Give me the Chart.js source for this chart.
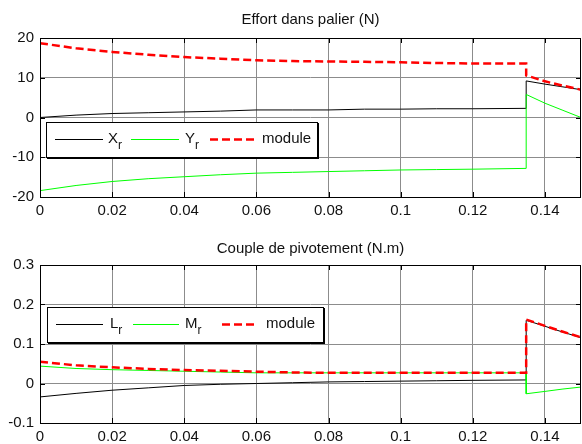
<!DOCTYPE html>
<html>
<head>
<meta charset="utf-8">
<script src="https://cdn.jsdelivr.net/npm/chart.js@4.4.0/dist/chart.umd.min.js"></script>
<style>
  body { margin: 0; background: #fff; }
  #wrap { position: relative; width: 582px; height: 444px; background: #fff; font-family: "Liberation Sans", Arial, sans-serif; color: #111; }
  canvas { position: absolute; left: 0; }
  .ttl { position: absolute; left: 40px; width: 541px; text-align: center; font-size: 15px; }
  .leg { position: absolute; border: 1.5px solid #000; box-sizing: border-box; background: #fff; box-shadow: 1px 1px 0 #000; }
  .leg svg { position: absolute; }
  .leg span { position: absolute; font-size: 15px; line-height: 16px; }
  .leg sub { font-size: 12px; vertical-align: -6px; }
</style>
</head>
<body>
<div id="wrap">
  <canvas id="c1" width="582" height="222" style="top:0"></canvas>
  <canvas id="c2" width="582" height="222" style="top:222px"></canvas>
  <div class="ttl" style="top:10px">Effort dans palier (N)</div>
  <div class="ttl" style="top:239px">Couple de pivotement (N.m)</div>

  <div class="leg" style="left:46px;top:122px;width:272px;height:36px">
    <svg style="left:8px;top:15px" width="48" height="4"><line x1="0" y1="1.5" x2="48" y2="1.5" stroke="#000" stroke-width="1"/></svg>
    <span style="left:61px;top:7px">X<sub>r</sub></span>
    <svg style="left:84px;top:15px" width="48" height="4"><line x1="0" y1="1.5" x2="48" y2="1.5" stroke="#00ff00" stroke-width="1"/></svg>
    <span style="left:138px;top:7px">Y<sub>r</sub></span>
    <svg style="left:163px;top:14px" width="46" height="5"><line x1="0" y1="2.5" x2="46" y2="2.5" stroke="#ff0000" stroke-width="2.5" stroke-dasharray="8,4"/></svg>
    <span style="left:215px;top:7px">module</span>
  </div>

  <div class="leg" style="left:47px;top:307px;width:277px;height:36px">
    <svg style="left:8px;top:15px" width="47" height="4"><line x1="0" y1="1.5" x2="47" y2="1.5" stroke="#000" stroke-width="1"/></svg>
    <span style="left:62px;top:7px">L<sub>r</sub></span>
    <svg style="left:85px;top:15px" width="46" height="4"><line x1="0" y1="1.5" x2="46" y2="1.5" stroke="#00ff00" stroke-width="1"/></svg>
    <span style="left:137px;top:7px">M<sub>r</sub></span>
    <svg style="left:174px;top:14px" width="36" height="5"><line x1="0" y1="2.5" x2="36" y2="2.5" stroke="#ff0000" stroke-width="2.5" stroke-dasharray="8,4"/></svg>
    <span style="left:218px;top:7px">module</span>
  </div>
</div>

<script>
// temps (s)
var t = [0, 0.01, 0.02, 0.03, 0.04, 0.05, 0.06, 0.07, 0.08, 0.09, 0.1, 0.11, 0.12, 0.1348, 0.1348, 0.14, 0.145, 0.15];

// effort dans palier (N)
var Xr = [0, 0.6, 1.0, 1.2, 1.4, 1.6, 1.9, 1.9, 1.9, 2.1, 2.1, 2.2, 2.2, 2.3, 9.2, 8.4, 7.7, 7.0];
var Yr = [-18.4, -17.1, -16.1, -15.4, -14.9, -14.4, -14.0, -13.8, -13.6, -13.4, -13.2, -13.1, -13.0, -12.8, 5.8, 3.6, 1.8, 0];
var modF = [18.7, 17.4, 16.5, 15.8, 15.2, 14.8, 14.4, 14.2, 14.1, 14.0, 13.9, 13.7, 13.6, 13.6, 10.6, 9.1, 8.0, 7.0];

// couple de pivotement (N.m)
var Lr = [-0.034, -0.025, -0.017, -0.011, -0.005, -0.002, 0, 0.002, 0.004, 0.005, 0.006, 0.007, 0.008, 0.009, 0.160, 0.145, 0.130, 0.116];
var Mr = [0.044, 0.038, 0.035, 0.033, 0.031, 0.029, 0.027, 0.027, 0.027, 0.027, 0.027, 0.027, 0.027, 0.027, -0.026, -0.020, -0.014, -0.009];
var modC = [0.055, 0.046, 0.041, 0.037, 0.034, 0.032, 0.030, 0.028, 0.027, 0.027, 0.027, 0.027, 0.027, 0.027, 0.162, 0.146, 0.131, 0.117];

var xTicks = [0, 0.02, 0.04, 0.06, 0.08, 0.1, 0.12, 0.14];
var yTicks1 = [-20, -10, 0, 10, 20];
var yTicks2 = [-0.1, 0, 0.1, 0.2, 0.3];

function pts(ys) {
  return ys.map(function(y, i) { return { x: t[i], y: y }; });
}

// cadre noir + petites graduations vers l'interieur (style matlab)
var boxPlugin = {
  id: 'box',
  afterDraw: function(chart) {
    var a = chart.chartArea, ctx = chart.ctx;
    ctx.save();
    ctx.strokeStyle = '#000';
    ctx.lineWidth = 1;
    ctx.beginPath();
    chart.scales.x.ticks.forEach(function(tk) {
      var px = Math.round(chart.scales.x.getPixelForValue(tk.value)) + 0.5;
      ctx.moveTo(px, a.top); ctx.lineTo(px, a.top + 5);
      ctx.moveTo(px, a.bottom); ctx.lineTo(px, a.bottom - 5);
    });
    chart.scales.y.ticks.forEach(function(tk) {
      var py = Math.round(chart.scales.y.getPixelForValue(tk.value)) + 0.5;
      ctx.moveTo(a.left, py); ctx.lineTo(a.left + 5, py);
      ctx.moveTo(a.right, py); ctx.lineTo(a.right - 5, py);
    });
    ctx.stroke();
    ctx.strokeRect(Math.round(a.left) + 0.5, Math.round(a.top) + 0.5, Math.round(a.right - a.left) - 1, Math.round(a.bottom - a.top));
    ctx.restore();
  }
};

function makeChart(id, series, yMin, yMax, yTicks, padTop, xH) {
  var font = { family: '"Liberation Sans", Arial, sans-serif', size: 15 };
  return new Chart(document.getElementById(id), {
    type: 'line',
    data: {
      datasets: [
        { data: pts(series[2]), borderColor: '#ff0000', borderWidth: 2.5, borderDash: [8, 4], order: 0 },
        { data: pts(series[1]), borderColor: '#00ff00', borderWidth: 1, order: 1 },
        { data: pts(series[0]), borderColor: '#000000', borderWidth: 1, order: 2 }
      ]
    },
    options: {
      responsive: false,
      devicePixelRatio: 1,
      animation: false,
      layout: { padding: { top: padTop, right: 1, left: 0, bottom: 0 } },
      elements: { point: { radius: 0 }, line: { tension: 0 } },
      plugins: { legend: { display: false }, tooltip: { enabled: false }, title: { display: false } },
      scales: {
        x: {
          type: 'linear', min: 0, max: 0.15,
          afterBuildTicks: function(s) { s.ticks = xTicks.map(function(v) { return { value: v }; }); },
          afterFit: function(s) { s.height = xH; },
          grid: { color: '#8c8c8c', drawTicks: false },
          border: { display: false },
          ticks: { color: '#111', font: font, padding: 5, maxRotation: 0, callback: function(v) { return String(v); } }
        },
        y: {
          min: yMin, max: yMax,
          afterBuildTicks: function(s) { s.ticks = yTicks.map(function(v) { return { value: v }; }); },
          afterFit: function(s) { s.width = 40; },
          grid: { color: '#8c8c8c', drawTicks: false },
          border: { display: false },
          ticks: { color: '#111', font: font, padding: 6, callback: function(v) { return String(v); } }
        }
      }
    },
    plugins: [boxPlugin]
  });
}

makeChart('c1', [Xr, Yr, modF], -20, 20, yTicks1, 38, 25);
makeChart('c2', [Lr, Mr, modC], -0.1, 0.3, yTicks2, 43, 21);
</script>
</body>
</html>
